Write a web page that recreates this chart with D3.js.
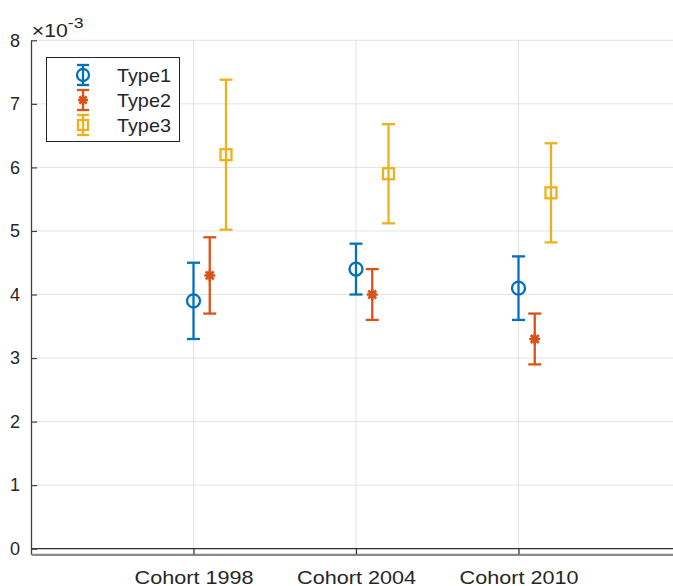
<!DOCTYPE html>
<html>
<head>
<meta charset="utf-8">
<script src="https://cdn.jsdelivr.net/npm/d3@7"></script>
<style>
  body { margin: 0; background: #fff; }
  text { font-family: "Liberation Sans", Arial, sans-serif; fill: #262626; }
</style>
</head>
<body id="body">
<script>
const cohorts = ["Cohort 1998", "Cohort 2004", "Cohort 2010"];
const seriesNames = ["Type1", "Type2", "Type3"];
const means = [
  [0.0039, 0.0044, 0.0041],
  [0.0043, 0.0040, 0.0033],
  [0.0062, 0.0059, 0.0056]
];
const lower = [
  [0.0033, 0.0040, 0.0036],
  [0.0037, 0.0036, 0.0029],
  [0.00502, 0.00512, 0.00482]
];
const upper = [
  [0.0045, 0.0048, 0.0046],
  [0.0049, 0.0044, 0.0037],
  [0.00738, 0.00668, 0.00638]
];
const offsets = [0, 0.1, 0.2];
const colors = ["#0072BD", "#D95319", "#EDB120"];
const yTicks = [0, 1, 2, 3, 4, 5, 6, 7, 8];

const width = 673, height = 586;
const svg = d3.select("body").append("svg")
  .attr("width", width).attr("height", height);

const x = d3.scaleLinear().domain([0, 4]).range([31, 681]);
const y = d3.scaleLinear().domain([-0.000088, 0.008]).range([554.3, 40.3]);

// grid
const grid = svg.append("g");
grid.selectAll(".hg").data(yTicks).join("line")
  .attr("x1", 31).attr("x2", width)
  .attr("y1", d => y(d / 1000)).attr("y2", d => y(d / 1000))
  .attr("stroke", "#e3e3e3").attr("stroke-width", 1);
grid.selectAll(".vg").data(cohorts).join("line")
  .attr("x1", (d, i) => x(i + 1)).attr("x2", (d, i) => x(i + 1))
  .attr("y1", 40).attr("y2", 554)
  .attr("stroke", "#e3e3e3").attr("stroke-width", 1);

// zero line
svg.append("line")
  .attr("x1", 31).attr("x2", width)
  .attr("y1", y(0)).attr("y2", y(0))
  .attr("stroke", "#303030").attr("stroke-width", 1.2);

// axes
const yAxis = svg.append("g").attr("transform", "translate(31,0)")
  .call(d3.axisLeft(y).tickValues(yTicks.map(d => d / 1000))
    .tickFormat(d => d3.format("d")(Math.round(d * 1000)))
    .tickSizeInner(-6).tickSizeOuter(0).tickPadding(11));
yAxis.select(".domain").attr("stroke", "#404040").attr("stroke-width", 1.3);
yAxis.selectAll(".tick line").attr("stroke", "#404040").attr("stroke-width", 1.2);
yAxis.selectAll("text").attr("font-size", 18).attr("fill", "#262626");

const xAxis = svg.append("g").attr("transform", "translate(0,554.3)")
  .call(d3.axisBottom(x).tickValues([1, 2, 3])
    .tickFormat((d, i) => cohorts[i])
    .tickSizeInner(-6).tickSizeOuter(0));
xAxis.select(".domain").attr("stroke", "#8a8a8a").attr("stroke-width", 2.2);
xAxis.selectAll(".tick line").attr("stroke", "#303030").attr("stroke-width", 1.2);
xAxis.selectAll("text").attr("font-size", 18).attr("fill", "#262626")
  .attr("x", 0).attr("y", 30).attr("dy", 0)
  .attr("transform", "scale(1.2,1)");

// exponent
const ex = svg.append("text").attr("x", 32).attr("y", 37).attr("font-size", 18)
  .attr("transform", "translate(-6,0) scale(1.18,1)");
ex.append("tspan").text("\u00d710");
ex.append("tspan").attr("dy", -9).attr("font-size", 15).text("-3");

function marker(g, type, cx, cy, s, color) {
  if (type === 0) {
    g.append("circle").attr("cx", cx).attr("cy", cy).attr("r", s)
      .attr("fill", "none").attr("stroke", color).attr("stroke-width", 2.3);
  } else if (type === 1) {
    const r = s * 0.85;
    const d = r * 0.72;
    g.append("path")
      .attr("d", `M${cx - r},${cy}H${cx + r}M${cx},${cy - r}V${cy + r}` +
        `M${cx - d},${cy - d}L${cx + d},${cy + d}M${cx - d},${cy + d}L${cx + d},${cy - d}`)
      .attr("stroke", color).attr("stroke-width", 2.6).attr("fill", "none");
  } else {
    g.append("rect").attr("x", cx - s).attr("y", cy - s)
      .attr("width", 2 * s).attr("height", 2 * s)
      .attr("fill", "none").attr("stroke", color).attr("stroke-width", 2.3);
  }
}

// error bars
seriesNames.forEach((name, si) => {
  const g = svg.append("g");
  const c = colors[si];
  means[si].forEach((m, ci) => {
    const cx = x(ci + 1 + offsets[si]);
    g.append("line").attr("x1", cx).attr("x2", cx)
      .attr("y1", y(lower[si][ci])).attr("y2", y(upper[si][ci]))
      .attr("stroke", c).attr("stroke-width", 2.3);
    [lower[si][ci], upper[si][ci]].forEach(v => {
      g.append("line").attr("x1", cx - 6.5).attr("x2", cx + 6.5)
        .attr("y1", y(v)).attr("y2", y(v))
        .attr("stroke", c).attr("stroke-width", 2.3);
    });
    marker(g, si, cx, y(m), si === 2 ? 5.5 : 6.5, c);
  });
});

// legend
const lg = svg.append("g");
lg.append("rect").attr("x", 46.5).attr("y", 57.5).attr("width", 133).attr("height", 84)
  .attr("fill", "#fff").attr("stroke", "#262626").attr("stroke-width", 1);
seriesNames.forEach((name, si) => {
  const cy = 75 + si * 25;
  const c = colors[si];
  const cx = 83;
  lg.append("line").attr("x1", cx).attr("x2", cx).attr("y1", cy - 10).attr("y2", cy + 10)
    .attr("stroke", c).attr("stroke-width", 2.3);
  [cy - 10, cy + 10].forEach(v => lg.append("line")
    .attr("x1", cx - 6).attr("x2", cx + 6).attr("y1", v).attr("y2", v)
    .attr("stroke", c).attr("stroke-width", 2.3));
  marker(lg, si, cx, cy, si === 2 ? 5 : 6, c);
  lg.append("text").attr("x", 117 / 1.1).attr("y", cy + 7).attr("font-size", 18)
    .attr("transform", "scale(1.1,1)")
    .attr("fill", "#000").text(name);
});
</script>
</body>
</html>
